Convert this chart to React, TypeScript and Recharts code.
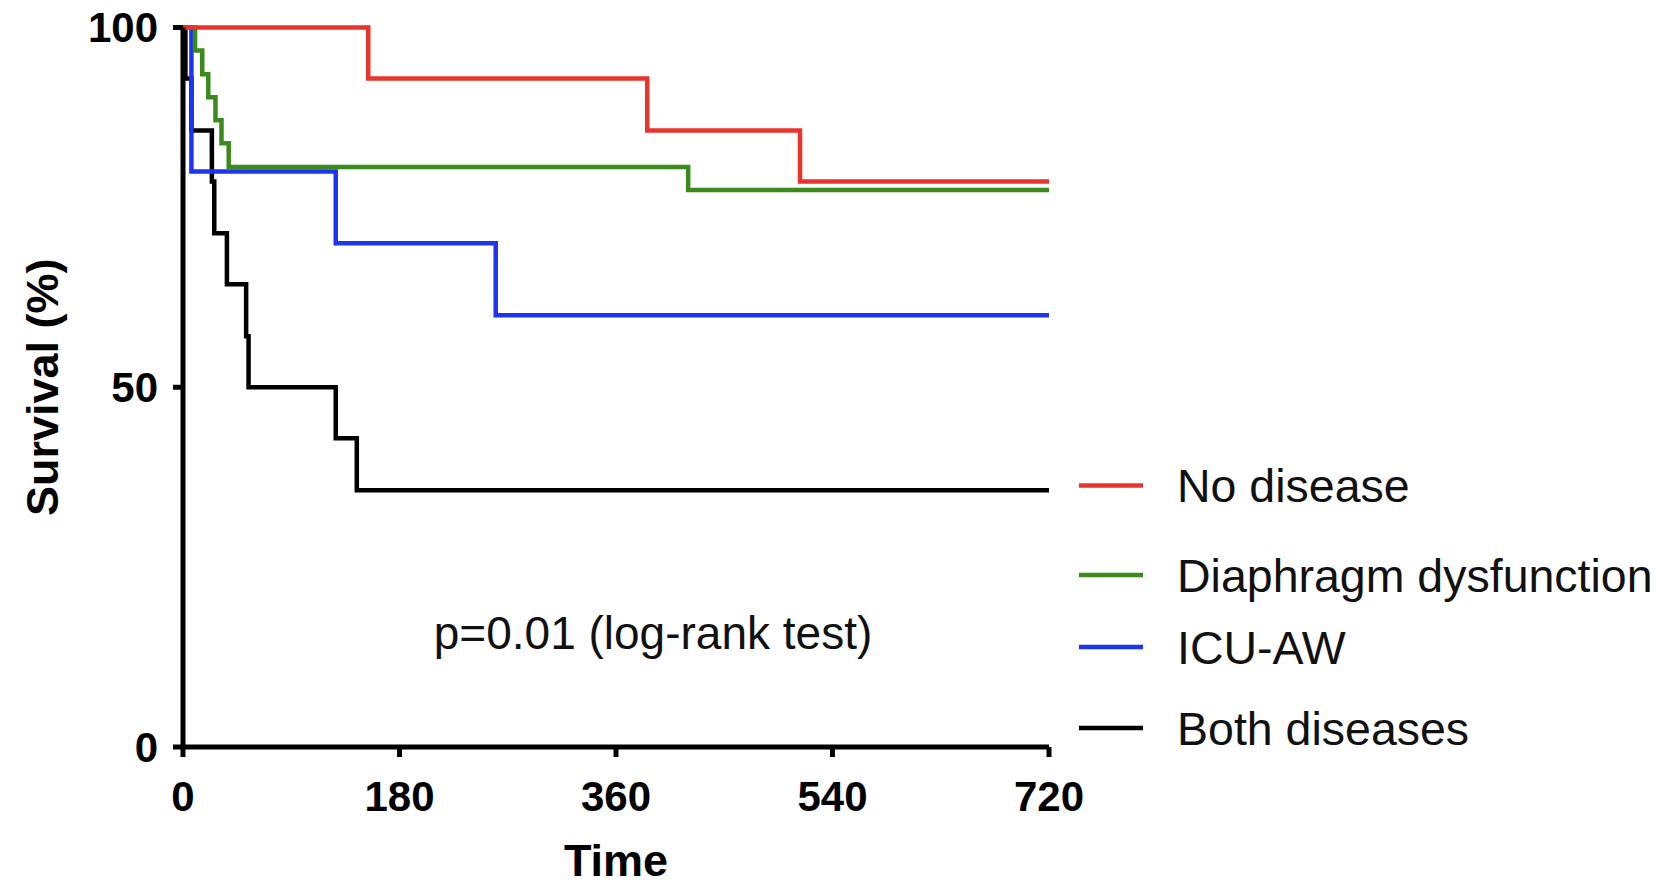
import React from "react";
import { LineChart, Line, XAxis, YAxis, Legend, Label } from "recharts";

// ---- data (Kaplan–Meier steps: time in days, survival in %) ----
const X_TICKS = [0, 180, 360, 540, 720];
const Y_TICKS = [0, 50, 100];

const NO_DISEASE_T = [0, 154, 386, 513, 720];
const NO_DISEASE_S = [100, 92.9, 85.7, 78.6, 78.6];

const DIAPHRAGM_T = [0, 10, 16, 21, 27, 32, 38, 420, 720];
const DIAPHRAGM_S = [100, 96.8, 93.5, 90.3, 87.1, 83.9, 80.6, 77.4, 77.4];

const ICUAW_T = [0, 7, 127, 260, 720];
const ICUAW_S = [100, 80, 70, 60, 60];

const BOTH_T = [0, 2, 7, 24, 26, 36.5, 52.5, 54.5, 127, 144.5, 720];
const BOTH_S = [100, 92.9, 85.7, 78.6, 71.4, 64.3, 57.1, 50, 42.9, 35.7, 35.7];

const SERIES_NAMES = ["No disease", "Diaphragm dysfunction", "ICU-AW", "Both diseases"];
const SERIES_COLORS = ["#e8342c", "#3b8a1b", "#1b35f2", "#000000"];

const P_TEXT = "p=0.01 (log-rank test)";

const zip = (t: number[], s: number[]) => t.map((v, i) => ({ t: v, s: s[i] }));

const SERIES = [
  { name: SERIES_NAMES[0], color: SERIES_COLORS[0], data: zip(NO_DISEASE_T, NO_DISEASE_S) },
  { name: SERIES_NAMES[1], color: SERIES_COLORS[1], data: zip(DIAPHRAGM_T, DIAPHRAGM_S) },
  { name: SERIES_NAMES[2], color: SERIES_COLORS[2], data: zip(ICUAW_T, ICUAW_S) },
  { name: SERIES_NAMES[3], color: SERIES_COLORS[3], data: zip(BOTH_T, BOTH_S) },
];

const FONT = "'Liberation Sans', Arial, Helvetica, sans-serif";
const LEGEND_ROW_Y = [485.5, 575, 647, 728];

const LegendContent = (props: any) => {
  const payload = (props.payload || []).slice().sort(
    (a: any, b: any) => SERIES_NAMES.indexOf(a.value) - SERIES_NAMES.indexOf(b.value)
  );
  return (
    <svg width={1655} height={886} style={{ position: "absolute", left: 0, top: 0, overflow: "visible" }}>
      {payload.map((p: any, i: number) => (
        <g key={p.value}>
          <line x1={1079} x2={1143} y1={LEGEND_ROW_Y[i]} y2={LEGEND_ROW_Y[i]} stroke={p.color} strokeWidth={4.5} />
          <text
            x={1177}
            y={LEGEND_ROW_Y[i] + 16.5}
            fontFamily={FONT}
            fontSize={46.5}
            fill="#111"
          >
            {p.value}
          </text>
        </g>
      ))}
    </svg>
  );
};

const YTitle = (props: any) => {
  const vb = props.viewBox || { x: 0, y: 0, width: 0, height: 0 };
  const x = vb.x + 58;
  const y = vb.y + vb.height / 2;
  return (
    <text
      x={x}
      y={y}
      transform={`rotate(-90 ${x} ${y})`}
      textAnchor="middle"
      fontFamily={FONT}
      fontWeight={700}
      fontSize={45}
      fill="#000"
    >
      Survival (%)
    </text>
  );
};

export default function App() {
  const tickStyle = { fontFamily: FONT, fontWeight: 700, fontSize: 42, fill: "#000" };
  return (
    <div style={{ position: "fixed", left: 0, top: 0, width: 1655, height: 886, background: "#fff", overflow: "hidden" }}>
      <LineChart width={1655} height={886} margin={{ top: 27.5, right: 606, bottom: 0, left: 0 }}>
        <XAxis
          dataKey="t"
          type="number"
          domain={[0, 720]}
          ticks={X_TICKS}
          height={139}
          tick={tickStyle}
          tickSize={10}
          tickMargin={24}
          axisLine={{ stroke: "#000", strokeWidth: 5 }}
          tickLine={{ stroke: "#000", strokeWidth: 5 }}
          allowDataOverflow
        >
          <Label
            value="Time"
            position="insideBottom"
            offset={10}
            style={{ fontFamily: FONT, fontWeight: 700, fontSize: 45, fill: "#000" }}
          />
        </XAxis>
        <YAxis
          type="number"
          domain={[0, 100]}
          ticks={Y_TICKS}
          width={183}
          tick={tickStyle}
          tickSize={10}
          tickMargin={15}
          axisLine={{ stroke: "#000", strokeWidth: 5 }}
          tickLine={{ stroke: "#000", strokeWidth: 5 }}
        >
          <Label content={YTitle} />
        </YAxis>
        {SERIES.slice().reverse().map((s) => (
          <Line
            key={s.name}
            name={s.name}
            data={s.data}
            dataKey="s"
            type="stepAfter"
            stroke={s.color}
            strokeWidth={4.5}
            dot={false}
            activeDot={false}
            isAnimationActive={false}
          />
        ))}
        <Legend
          layout="vertical"
          align="center"
          verticalAlign="middle"
          content={LegendContent}
          wrapperStyle={{ left: 0, top: 0, width: 1655, height: 886, pointerEvents: "none" }}
        />
        <text x={653} y={649} textAnchor="middle" fontFamily={FONT} fontSize={46} fill="#111">
          {P_TEXT}
        </text>
      </LineChart>
    </div>
  );
}
